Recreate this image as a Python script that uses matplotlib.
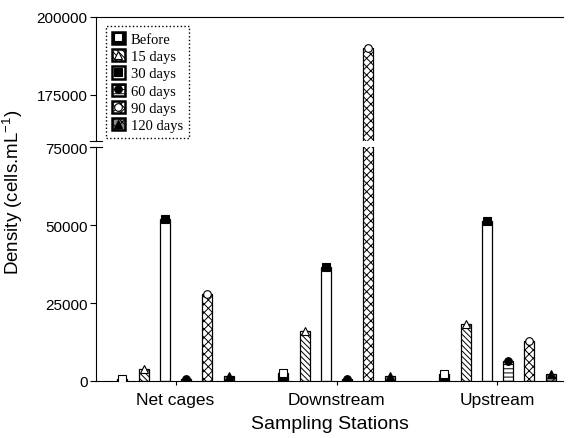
import numpy as np
import matplotlib
matplotlib.use('Agg')
import matplotlib.pyplot as plt
from matplotlib.lines import Line2D
from matplotlib.patches import Patch

plt.rcParams['font.family'] = 'Liberation Sans'
plt.rcParams['mathtext.default'] = 'regular'
plt.rcParams['hatch.linewidth'] = 0.7

stations = ['Net cages', 'Downstream', 'Upstream']
periods = ['Before', '15 days', '30 days', '60 days', '90 days', '120 days']
before = [800, 2500, 2250]
days15 = [3900, 16000, 18300]
days30 = [51900, 36400, 51300]
days60 = [600, 800, 6400]
days90 = [28000, 190000, 12900]
days120 = [1600, 1700, 2200]
values = [before, days15, days30, days60, days90, days120]

# bar look: face, hatch, marker, marker face
faces = ['black', 'white', 'white', 'white', 'white', '0.55']
hatches = [None, '\\\\\\\\\\\\', None, '----', 'xxxx', 'xxx']
markers = ['s', '^', 's', 'o', 'o', '^']
mfaces = ['white', 'white', 'black', 'black', 'white', 'black']

fig = plt.figure(figsize=(5.75, 4.39), dpi=100)
left, width = 96 / 575, 467 / 575
ax_top = fig.add_axes([left, 1 - 142 / 439, width, 124 / 439])
ax_bot = fig.add_axes([left, 1 - 382 / 439, width, 234 / 439])

x = np.arange(len(stations))
step = 0.132
bw = 0.062

handles = []
for ax in (ax_top, ax_bot):
    for i, vals in enumerate(values):
        pos = x + (i - 2.5) * step
        ax.bar(pos, vals, bw, color=faces[i], edgecolor='black', hatch=hatches[i],
               linewidth=0.9, zorder=2)
        ax.plot(pos, vals, linestyle='none', marker=markers[i], markersize=5.5,
                markerfacecolor=mfaces[i], markeredgecolor='black', markeredgewidth=0.8,
                zorder=3, clip_on=True)

for i in range(len(periods)):
    p = Patch(facecolor=faces[i], edgecolor='black', hatch=hatches[i], linewidth=1.8)
    m = Line2D([], [], linestyle='none', marker=markers[i], markersize=5.5,
               markerfacecolor=mfaces[i], markeredgecolor='black', markeredgewidth=0.8)
    handles.append((p, m))

xlim = (-0.494, 2.407)
ax_top.set_xlim(*xlim)
ax_bot.set_xlim(*xlim)
ax_top.set_ylim(160000, 200000)
ax_bot.set_ylim(0, 75000)
ax_top.set_yticks([175000, 200000])
ax_bot.set_yticks([0, 25000, 50000, 75000])

for ax in (ax_top, ax_bot):
    ax.spines['right'].set_visible(False)
    ax.tick_params(axis='y', direction='out', length=4, width=0.8, labelsize=11, pad=2)
ax_top.spines['bottom'].set_visible(False)
ax_bot.spines['top'].set_visible(False)
ax_top.set_xticks([])
ax_bot.set_xticks(x)
ax_bot.set_xticklabels(stations, fontsize=12.5)
ax_bot.tick_params(axis='x', direction='out', length=3, width=0.8, pad=5)

# break marks on the y axis
ax_top.plot([-0.012, 0.012], [0, 0], transform=ax_top.transAxes, color='black',
            linewidth=0.8, clip_on=False)
ax_bot.plot([-0.012, 0.012], [1, 1], transform=ax_bot.transAxes, color='black',
            linewidth=0.8, clip_on=False)

fig.text(0.5 * (96 + 563) / 575, 1 - 425 / 439, 'Sampling Stations', fontsize=14,
         ha='center', va='center')
fig.text(13 / 575, 1 - 192 / 439, 'Density (cells.mL$^{-1}$)', fontsize=13.5,
         rotation=90, ha='center', va='center')

leg = ax_top.legend(handles, periods, loc='upper left',
                    bbox_to_anchor=(106 / 575, 1 - 27 / 439), bbox_transform=fig.transFigure,
                    borderaxespad=0, fancybox=False, framealpha=1, edgecolor='black',
                    prop={'family': 'Liberation Serif', 'size': 10.5},
                    handlelength=0.9, handleheight=0.9, handletextpad=0.4,
                    labelspacing=0.22, borderpad=0.4, numpoints=1)
leg.get_frame().set_linestyle(':')
leg.get_frame().set_linewidth(1.0)
leg.set_zorder(5)

fig.savefig('out.png', dpi=100)
